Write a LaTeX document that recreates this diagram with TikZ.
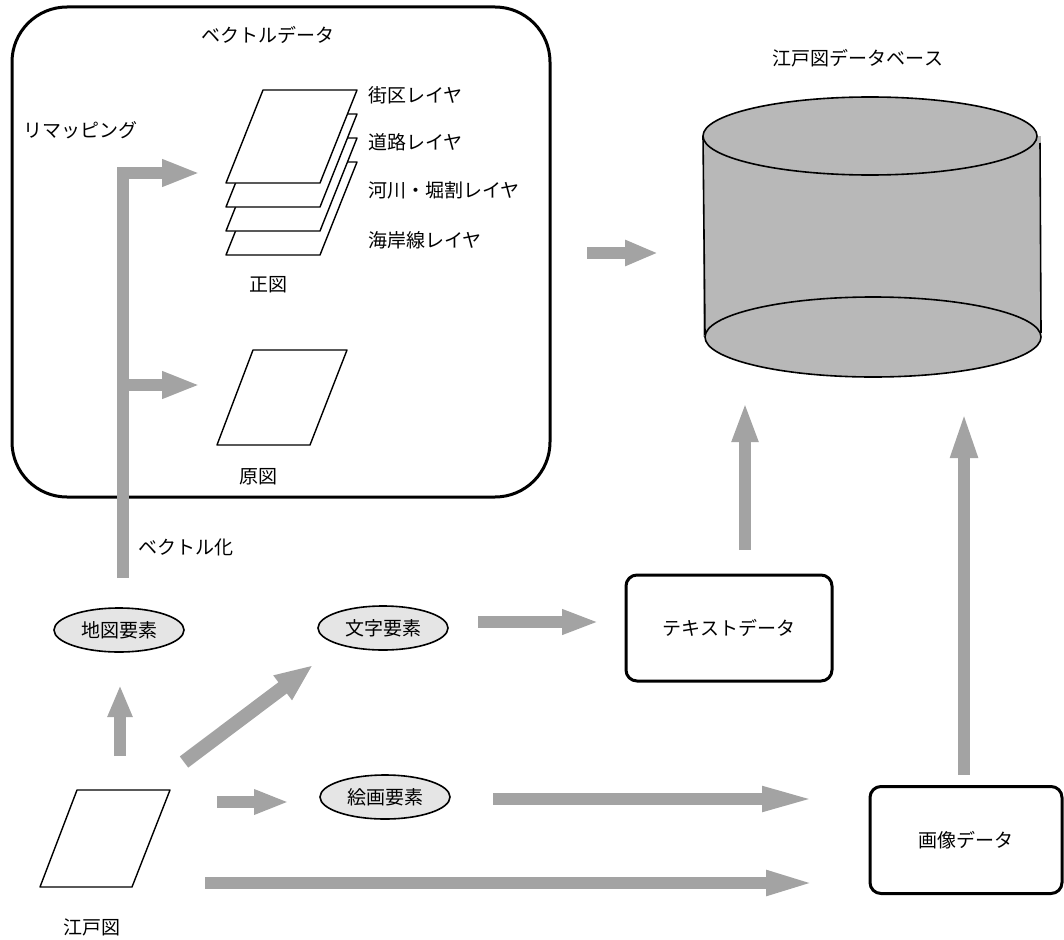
\documentclass[tikz,border=0pt]{standalone}
\usepackage{fontspec}
\newfontfamily\jp{Noto Sans CJK JP}
\usetikzlibrary{arrows.meta,shapes.geometric}
\definecolor{arrowgray}{gray}{0.64}
\definecolor{dbgray}{gray}{0.72}
\definecolor{ellgray}{gray}{0.90}
\tikzset{
  lbl/.style={font=\jp\fontsize{19}{21}\selectfont, inner sep=0pt},
  garrow/.style={draw=arrowgray, line width=12pt, -{Triangle[length=38pt,width=25pt]}},
  elem/.style={ellipse, draw, line width=1.6pt, fill=ellgray, minimum width=130pt, minimum height=44pt, inner sep=0pt, font=\jp\fontsize{19}{21}\selectfont},
  databox/.style={draw, line width=3pt, rounded corners=11pt, inner sep=0pt, font=\jp\fontsize{19}{21}\selectfont},
  sheet/.style={draw, line width=1.4pt, fill=white, line join=round},
}
\begin{document}
\begin{tikzpicture}[x=1pt,y=-1pt]
\useasboundingbox (0,0) rectangle (1064,939);
% vector data frame
\node[draw, line width=3pt, rounded corners=55pt, minimum width=538pt, minimum height=490pt, inner sep=0pt] (vec) at (281,252) {};
\node[lbl] (vectitle) at (268,35) {ベクトルデータ};
\node[lbl] (remap) at (80,130) {リマッピング};
% layered sheets (正図)
\foreach \d in {72,48,24,0}{
  \draw[sheet] (263,90+\d) -- (357,90+\d) -- (320,183+\d) -- (226,183+\d) -- cycle;
}
\coordinate (seizu) at (290,170);
\node[lbl, anchor=west] (l1) at (368,95) {街区レイヤ};
\node[lbl, anchor=west] (l2) at (368,142) {道路レイヤ};
\node[lbl, anchor=west] (l3) at (368,190) {河川・堀割レイヤ};
\node[lbl, anchor=west] (l4) at (368,240) {海岸線レイヤ};
\node[lbl] (seizulbl) at (268,285) {正図};
% 原図
\draw[sheet] (253,350) -- (347,350) -- (310,445) -- (217,445) -- cycle;
\coordinate (genzu) at (282,397);
\node[lbl] (genzulbl) at (258,477) {原図};
% vectorization bar
\coordinate (barbot) at (123,578);
\coordinate (t1) at (200,173);
\coordinate (b2) at (123,385);
\coordinate (t2) at (200,385);
\draw[garrow, line join=miter] (barbot) |- (t1);
\draw[garrow] (b2) -- (t2);
\node[lbl] (vecka) at (186,547) {ベクトル化};
% database cylinder
\fill[dbgray] (703,136) -- (703,337) -- (1041,337) -- (1041,136) -- cycle;
\draw[line width=1.6pt, fill=dbgray] (873,337) ellipse [x radius=168, y radius=40];
\draw[line width=1.6pt, fill=dbgray] (870,136) ellipse [x radius=167, y radius=39];
\draw[line width=1.6pt] (703,136) -- (705,335);
\draw[line width=1.6pt] (1040,143) -- (1041,333);
\coordinate (db) at (872,237);
\node[lbl] (dbtitle) at (858,58) {江戸図データベース};
% arrow vector -> db
\coordinate (v1) at (587,253);
\coordinate (v2) at (658,253);
\draw[garrow, -{Triangle[length=33pt,width=24pt]}] (v1) -- (v2);
% elements
\node[elem] (chizu) at (119,630) {地図要素};
\node[elem] (moji) at (383,628) {文字要素};
\node[elem] (kaiga) at (385,797) {絵画要素};
% edo map
\draw[sheet] (77,790) -- (170,790) -- (132,887) -- (40,887) -- cycle;
\coordinate (edo) at (105,838);
\node[lbl] (edolbl) at (92,927) {江戸図};
% data boxes
\node[databox, minimum width=206pt, minimum height=106pt] (text) at (729,628) {テキストデータ};
\node[databox, minimum width=192pt, minimum height=107pt] (image) at (966,840) {画像データ};
% arrows
\coordinate (e1) at (120,756);
\coordinate (e2) at (120,685);
\draw[garrow, -{Triangle[length=32pt,width=23pt]}] (e1) -- (e2);
\coordinate (d1) at (184,762);
\coordinate (d2) at (313,665);
\draw[garrow, line width=14pt, -{Triangle[length=38pt,width=28pt]}] (d1) -- (d2);
\coordinate (p1) at (217,802);
\coordinate (p2) at (289,802);
\draw[garrow, -{Triangle[length=35pt,width=23pt]}] (p1) -- (p2);
\coordinate (m1) at (478,622);
\coordinate (m2) at (599,622);
\draw[garrow, -{Triangle[length=37pt,width=23pt]}] (m1) -- (m2);
\coordinate (k1) at (493,799);
\coordinate (k2) at (818,799);
\draw[garrow, -{Triangle[length=56pt,width=22pt]}] (k1) -- (k2);
\coordinate (g1) at (205,883);
\coordinate (g2) at (818,883);
\draw[garrow, -{Triangle[length=52pt,width=22pt]}] (g1) -- (g2);
\coordinate (x1) at (745,550);
\coordinate (x2) at (745,402);
\draw[garrow, -{Triangle[length=40pt,width=24pt]}] (x1) -- (x2);
\coordinate (y1) at (964,775);
\coordinate (y2) at (964,410);
\draw[garrow, -{Triangle[length=48pt,width=24pt]}] (y1) -- (y2);
\end{tikzpicture}
\end{document}
